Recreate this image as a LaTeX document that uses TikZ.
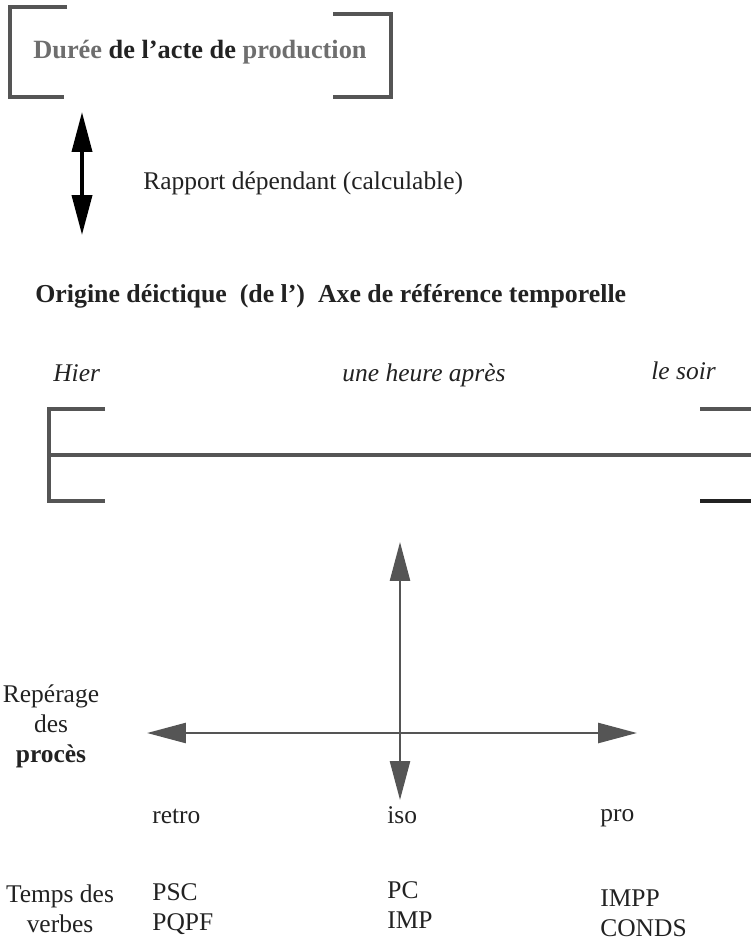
\documentclass[tikz,border=0pt]{standalone}
\usepackage{fontspec}
\setmainfont{Liberation Serif}
\usetikzlibrary{arrows.meta, positioning}

\definecolor{inkdark}{HTML}{222222}
\definecolor{inkgray}{HTML}{555555}
\definecolor{inklight}{HTML}{6E6E6E}

\begin{document}
\begin{tikzpicture}[x=0.02cm, y=-0.02cm, text=inkdark,
                font=\fontsize{14.5}{17}\selectfont,
                bracket line/.style={draw=inkgray, line width=2.1pt},
                axis arrow/.style={draw=inkgray, line width=1.5pt,
                  {Triangle[length=0.78cm, width=0.4cm]}-{Triangle[length=0.78cm, width=0.4cm]}},
                lbl/.style={anchor=base west, inner sep=0pt},
                when/.style={anchor=base west, inner sep=0pt, font=\itshape\fontsize{14.5}{17}\selectfont},
                tense/.style={anchor=west, inner sep=0pt, align=left}]

                \useasboundingbox (0,0) rectangle (751,946);

                % Duration bracket
                \node[font=\bfseries\fontsize{15}{18}\selectfont] (duree) at (200,52)
                  {{\color{inklight}Durée} de l'acte de {\color{inklight}production}};
                \draw[bracket line] (67,7) -| (10,97) -- (64,97);
                \draw[bracket line] (333,14) -| (391,97) -- (333,97);

                % Dependent relation
                \coordinate (relTop) at (82,112);
                \coordinate (relBot) at (82,235);
                \draw[draw=black, fill=black, line width=2.2pt,
                  {Triangle[length=0.8cm, width=0.4cm]}-{Triangle[length=0.8cm, width=0.4cm]}] (relTop) -- (relBot);
                \node[lbl] (rapport) at (143,189) {Rapport dépendant (calculable)};

                % Temporal reference axis
                \node[lbl, font=\bfseries\fontsize{14.7}{17}\selectfont] (origine) at (35,302)
                  {Origine déictique \ (de l') \ Axe de référence temporelle};
                \node[when] (hier) at (53,381) {Hier};
                \node[when] (heure) at (342,381) {une heure après};
                \node[when] (soir) at (651,379) {le soir};

                \draw[bracket line] (105,409) -| (49,501) -- (105,501);
                \coordinate (axeL) at (49,455);
                \coordinate (axeR) at (751,455);
                \draw[bracket line] (axeL) -- (axeR);
                \draw[bracket line] (700,409) -- (751,409);
                \draw[draw=inkdark, line width=2.1pt] (700,501) -- (751,501);

                % Process marking cross
                \coordinate (isoTop) at (400,542);
                \coordinate (isoBot) at (400,800);
                \coordinate (retroEnd) at (147,733);
                \coordinate (proEnd) at (637,733);
                \draw[axis arrow, fill=inkgray] (isoTop) -- (isoBot);
                \draw[axis arrow, fill=inkgray] (retroEnd) -- (proEnd);

                \node[align=center, inner sep=0pt] (reperage) at (51,726)
                  {Repérage\\des\\\textbf{procès}};

                \node[lbl] (retro) at (152,823) {retro};
                \node[lbl] (iso) at (387,823) {iso};
                \node[lbl] (pro) at (600,821) {pro};

                % Verb tenses
                \node[align=center, inner sep=0pt] (temps) at (60,909) {Temps des\\verbes};
                \node[tense] (psc) at (152,909) {PSC\\PQPF};
                \node[tense] (pc) at (387,905) {PC\\IMP};
                \node[tense] (impp) at (600,913) {IMPP\\CONDS};
            \end{tikzpicture}
\end{document}
